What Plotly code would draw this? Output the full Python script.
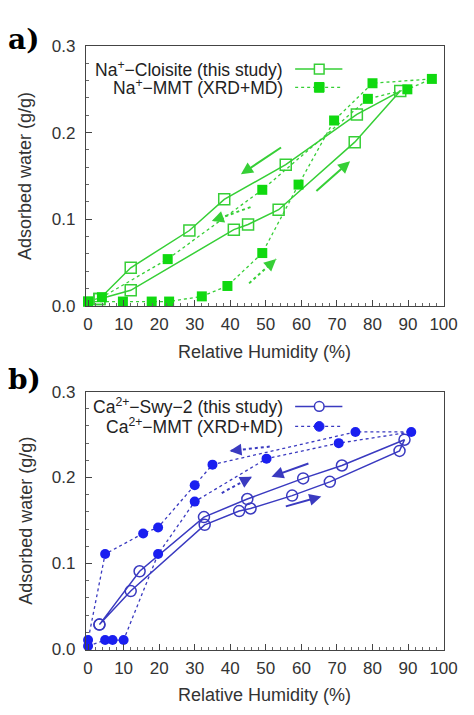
import plotly.graph_objects as go

# ---------------- data ----------------
# Panel a: Na+-Cloisite (this study), adsorption then desorption path
na_clo_rh = [3.2, 12.0, 41.0, 45.0, 53.6, 75.0, 87.8, 75.6, 55.6, 38.3, 28.5, 12.0, 3.2]
na_clo_w  = [0.008, 0.018, 0.088, 0.094, 0.111, 0.189, 0.248, 0.221, 0.163, 0.123, 0.087, 0.044, 0.008]
# Panel a: Na+-MMT (XRD+MD)
na_mmt_rh = [0.0, 9.8, 17.9, 22.8, 32.0, 39.2, 49.0, 59.2, 69.2, 80.0, 96.7, 89.8, 78.7, 49.0, 22.4, 3.9, 0.0]
na_mmt_w  = [0.005, 0.005, 0.005, 0.005, 0.011, 0.023, 0.061, 0.140, 0.214, 0.257, 0.262, 0.250, 0.239, 0.134, 0.054, 0.010, 0.005]
# Panel b: Ca2+-Swy-2 (this study)
ca_swy_rh = [3.2, 12.0, 32.8, 42.5, 45.7, 57.4, 68.0, 87.6, 89.0, 71.4, 60.5, 44.8, 32.6, 14.5, 3.2]
ca_swy_w  = [0.029, 0.068, 0.145, 0.161, 0.164, 0.179, 0.195, 0.231, 0.244, 0.214, 0.199, 0.175, 0.154, 0.091, 0.029]
# Panel b: Ca2+-MMT (XRD+MD)
ca_mmt_rh = [0.0, 4.8, 6.9, 10.0, 19.7, 30.0, 50.2, 70.5, 90.9, 75.2, 35.0, 30.0, 19.7, 15.5, 4.8, 0.0]
ca_mmt_w  = [0.004, 0.011, 0.011, 0.011, 0.111, 0.172, 0.222, 0.240, 0.253, 0.253, 0.215, 0.191, 0.142, 0.135, 0.111, 0.011]

# direction arrows (tail RH, tail w, head RH, head w)
arrows_a_solid = [(54.7, 0.184, 43.0, 0.152), (63.8, 0.131, 73.7, 0.167)]
arrows_a_dot   = [(45.7, 0.114, 34.8, 0.098), (45.3, 0.026, 52.9, 0.054)]
arrows_b_solid = [(62.4, 0.217, 51.6, 0.201), (55.2, 0.166, 65.6, 0.178)]
arrows_b_dot   = [(51.1, 0.236, 39.8, 0.231), (37.6, 0.182, 46.1, 0.201)]

x_ticks = list(range(0, 101, 10))
y_ticks = [0.0, 0.1, 0.2, 0.3]

legend_a = ["Na<sup>+</sup>\u2212Cloisite (this study)", "Na<sup>+</sup>\u2212MMT (XRD+MD)"]
legend_b = ["Ca<sup>2+</sup>\u2212Swy\u22122 (this study)", "Ca<sup>2+</sup>\u2212MMT (XRD+MD)"]

GREEN = "#36cf36"
GREEN_M = "#10d910"
BLUE_L = "#3a3ac0"
BLUE_M = "#1a1ff0"

W, H = 474, 715
FONT = "Liberation Sans"

def px(x):
    return x / W

def py(y):
    return 1 - y / H

fig = go.Figure()

# panel a traces
fig.add_trace(go.Scatter(x=na_clo_rh, y=na_clo_w, mode="lines+markers", xaxis="x", yaxis="y",
                         line=dict(color=GREEN, width=1.5),
                         marker=dict(symbol="square-open", size=11, color=GREEN, line=dict(width=1.5)),
                         cliponaxis=False, showlegend=False))
fig.add_trace(go.Scatter(x=na_mmt_rh, y=na_mmt_w, mode="lines+markers", xaxis="x", yaxis="y",
                         line=dict(color=GREEN, width=1.3, dash="dot"),
                         marker=dict(symbol="square", size=10, color=GREEN_M),
                         cliponaxis=False, showlegend=False))
# panel b traces
fig.add_trace(go.Scatter(x=ca_swy_rh, y=ca_swy_w, mode="lines+markers", xaxis="x2", yaxis="y2",
                         line=dict(color=BLUE_L, width=1.5),
                         marker=dict(symbol="circle-open", size=11, color=BLUE_L, line=dict(width=1.5)),
                         cliponaxis=False, showlegend=False))
fig.add_trace(go.Scatter(x=ca_mmt_rh, y=ca_mmt_w, mode="lines+markers", xaxis="x2", yaxis="y2",
                         line=dict(color=BLUE_L, width=1.3, dash="dot"),
                         marker=dict(symbol="circle", size=10, color=BLUE_M),
                         cliponaxis=False, showlegend=False))

annotations = []
shapes = []

def add_arrows(lst, xr, yr, color, dotted):
    for (x0, y0, x1, y1) in lst:
        if dotted:
            shapes.append(dict(type="line", xref=xr, yref=yr, x0=x0, y0=y0, x1=x1, y1=y1,
                               line=dict(color=color, width=2, dash="dot")))
            bx = x1 - 0.25 * (x1 - x0)
            by = y1 - 0.25 * (y1 - y0)
            annotations.append(dict(x=x1, y=y1, ax=bx, ay=by, xref=xr, yref=yr, axref=xr, ayref=yr,
                                    showarrow=True, arrowhead=2, arrowsize=1.2, arrowwidth=2,
                                    arrowcolor=color, text=""))
        else:
            annotations.append(dict(x=x1, y=y1, ax=x0, ay=y0, xref=xr, yref=yr, axref=xr, ayref=yr,
                                    showarrow=True, arrowhead=2, arrowsize=1.2, arrowwidth=2,
                                    arrowcolor=color, text=""))

add_arrows(arrows_a_solid, "x", "y", GREEN, False)
add_arrows(arrows_a_dot, "x", "y", GREEN, True)
add_arrows(arrows_b_solid, "x2", "y2", BLUE_L, False)
add_arrows(arrows_b_dot, "x2", "y2", BLUE_L, True)

# legends (gnuplot style: text right-aligned, key on the right)
def add_legend(texts, rows_y, color, mcolor, kind):
    for i, (t, yy) in enumerate(zip(texts, rows_y)):
        annotations.append(dict(x=px(292), y=py(yy), xref="paper", yref="paper", text=t,
                                showarrow=False, xanchor="right", yanchor="middle",
                                font=dict(family=FONT, size=17.5, color="#222")))
        shapes.append(dict(type="line", xref="paper", yref="paper", x0=px(303), x1=px(352),
                           y0=py(yy), y1=py(yy),
                           line=dict(color=color, width=1.5 if i == 0 else 1.3,
                                     dash="solid" if i == 0 else "dot")))
        r = 5
        shp = dict(type="rect" if kind == "sq" else "circle", xref="paper", yref="paper",
                   x0=px(328 - r), x1=px(328 + r), y0=py(yy + r), y1=py(yy - r))
        if i == 0:
            shp.update(line=dict(color=color, width=1.5), fillcolor="white")
        else:
            shp.update(line=dict(color=mcolor, width=1), fillcolor=mcolor)
        shapes.append(shp)

add_legend(legend_a, [61.7, 80.5], GREEN, GREEN_M, "sq")
add_legend(legend_b, [408.3, 428.8], BLUE_L, BLUE_M, "ci")

# axis titles
for ytop, ybot in [(38, 305), (393, 658)]:
    annotations.append(dict(x=px(23), y=py((ytop + ybot) / 2), xref="paper", yref="paper",
                            text="Adsorbed water (g/g)", textangle=-90, showarrow=False,
                            xanchor="center", yanchor="middle",
                            font=dict(family=FONT, size=18, color="#333")))
    annotations.append(dict(x=px(271), y=py(ybot + 47), xref="paper", yref="paper",
                            text="Relative Humidity (%)", showarrow=False,
                            xanchor="center", yanchor="middle",
                            font=dict(family=FONT, size=18, color="#333")))

# panel labels
annotations.append(dict(x=px(3), y=py(31), xref="paper", yref="paper", text="<b>a)</b>",
                        showarrow=False, xanchor="left", yanchor="middle",
                        font=dict(family="DejaVu Serif", size=28, color="black")))
annotations.append(dict(x=px(3), y=py(381), xref="paper", yref="paper", text="<b>b)</b>",
                        showarrow=False, xanchor="left", yanchor="middle",
                        font=dict(family="DejaVu Serif", size=28, color="black")))

xdom = [86 / W, 457 / W]
axis_common = dict(showline=True, linecolor="#444", linewidth=1, mirror=True, showgrid=False,
                   zeroline=False, ticks="inside", ticklen=6, tickcolor="#444",
                   tickfont=dict(family=FONT, size=17, color="#333"))
xaxis_common = dict(axis_common, range=[-0.6, 100], tickvals=x_ticks, ticklabelstandoff=3,
                    minor=dict(ticks="inside", ticklen=3, dtick=2, tickcolor="#666"))
yaxis_common = dict(axis_common, range=[0, 0.3], tickvals=y_ticks, tickformat=".1f",
                    ticklabelstandoff=6,
                    minor=dict(ticks="inside", ticklen=3, dtick=0.02, tickcolor="#666"))

fig.update_layout(
    width=W, height=H,
    margin=dict(l=0, r=0, t=0, b=0),
    paper_bgcolor="white", plot_bgcolor="white",
    xaxis=dict(xaxis_common, domain=xdom, anchor="y"),
    yaxis=dict(yaxis_common, domain=[1 - 305 / H, 1 - 38 / H], anchor="x"),
    xaxis2=dict(xaxis_common, domain=xdom, anchor="y2"),
    yaxis2=dict(yaxis_common, domain=[1 - 658 / H, 1 - 393 / H], anchor="x2"),
    annotations=annotations,
    shapes=shapes,
    font=dict(family=FONT),
)

fig.write_html("out.html")
